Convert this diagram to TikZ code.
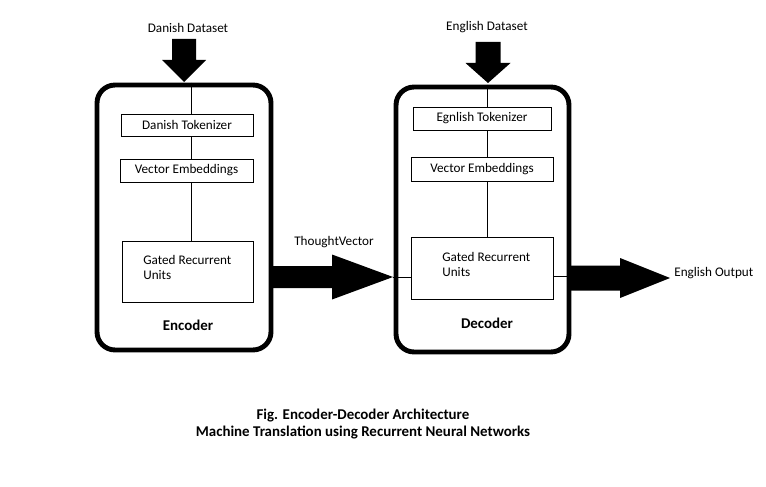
\documentclass[tikz,border=0pt]{standalone}
\usepackage{fontspec}
\setmainfont{Carlito}
\tikzset{
	smallbox/.style={draw, line width=0.5pt, inner sep=0pt, font=\fontsize{7.5}{9}\selectfont},
	bigbox/.style={draw, line width=2.8pt, rounded corners=0.36cm, inner sep=0pt},
	txt/.style={inner sep=0pt, font=\fontsize{7.5}{9}\selectfont},
	bold/.style={inner sep=0pt, font=\fontsize{8.5}{10.5}\selectfont\bfseries},
	link/.style={line width=0.5pt}
}
% fat arrows: tip x,y (head length : head half width : shaft half width : total length)
\def\fatdown(#1,#2)(#3:#4:#5:#6){\fill[black] (#1,#2) -- ++(-#4,-#3) -- ++(#4-#5,0) -- (#1-#5,#2-#6) -- (#1+#5,#2-#6) -- (#1+#5,#2-#3) -- (#1+#4,#2-#3) -- cycle;}
\def\fatright(#1,#2)(#3:#4:#5:#6){\fill[black] (#1,#2) -- (#1-#3,#2-#4) -- (#1-#3,#2-#5) -- (#1-#6,#2-#5) -- (#1-#6,#2+#5) -- (#1-#3,#2+#5) -- (#1-#3,#2+#4) -- cycle;}

\begin{document}
\begin{tikzpicture}[x=0.02cm, y=-0.02cm]
		%%%%% START %%%%%
		\useasboundingbox (0,0) rectangle (766,486);
		
		% encoder
		\node[bigbox, minimum width=3.48cm, minimum height=5.3cm] (enc) at (184,217.5) {};
		\node[smallbox, minimum width=2.64cm, minimum height=0.44cm] (dtok) at (187,125) {Danish Tokenizer};
		\node[smallbox, minimum width=2.66cm, minimum height=0.46cm] (dvec) at (186.5,170.5) {Vector Embeddings};
		\node[smallbox, minimum width=2.62cm, minimum height=1.22cm] (dgru) at (187.5,271.5) {};
		\node[txt, align=left, anchor=west] (dgrutxt) at (143,267.5) {Gated Recurrent\\Units};
		\node[bold] (enclbl) at (188,325) {Encoder};
		\coordinate (dspine) at (191,0);
		\draw[link] (enc.north -| dspine) -- (dtok.north -| dspine);
		\draw[link] (dtok.south -| dspine) -- (dvec.north -| dspine);
		\draw[link] (dvec.south -| dspine) -- (dgru.north -| dspine);
		
		% decoder
		\node[bigbox, minimum width=3.46cm, minimum height=5.3cm] (dec) at (482.5,219.5) {};
		\node[smallbox, minimum width=2.76cm, minimum height=0.46cm] (etok) at (482,118.5) {Egnlish Tokenizer};
		\node[smallbox, minimum width=2.84cm, minimum height=0.48cm] (evec) at (482,169) {Vector Embeddings};
		\node[smallbox, minimum width=2.84cm, minimum height=1.24cm] (egru) at (482,268) {};
		\node[txt, align=left, anchor=west] (egrutxt) at (442,264.5) {Gated Recurrent\\Units};
		\node[bold] (declbl) at (487,323) {Decoder};
		\coordinate (espine) at (487,0);
		\draw[link] (dec.north -| espine) -- (etok.north -| espine);
		\draw[link] (etok.south -| espine) -- (evec.north -| espine);
		\draw[link] (evec.south -| espine) -- (egru.north -| espine);
		
		% inputs
		\node[txt] (dset) at (188,28) {Danish Dataset};
		\fatdown(184,82)(22:22:12:43)
		\node[txt] (eset) at (487,27) {English Dataset};
		\fatdown(488,83)(20:22.5:12.5:41)
		
		% thought vector
		\node[txt] (tvlbl) at (334,242) {ThoughtVector};
		\coordinate (tvtip) at (393,277);
		\fatright(393,277)(61:22.5:11:120)
		\draw[link] (tvtip) -- (egru.west |- tvtip);
		
		% output
		\coordinate (outtip) at (670,278);
		\coordinate (outstart) at (570,276);
		\draw[link] (egru.east |- outstart) -- (outstart);
		\fatright(670,278)(50:20:12.5:100)
		\node[txt, anchor=west] (outlbl) at (674,273) {English Output};
		
		% caption
		\node[bold] (cap1) at (363,416) {Fig. Encoder-Decoder Architecture};
		\node[bold] (cap2) at (363,433) {Machine Translation using Recurrent Neural Networks};
		%%%%% END %%%%%
	\end{tikzpicture}
\end{document}
